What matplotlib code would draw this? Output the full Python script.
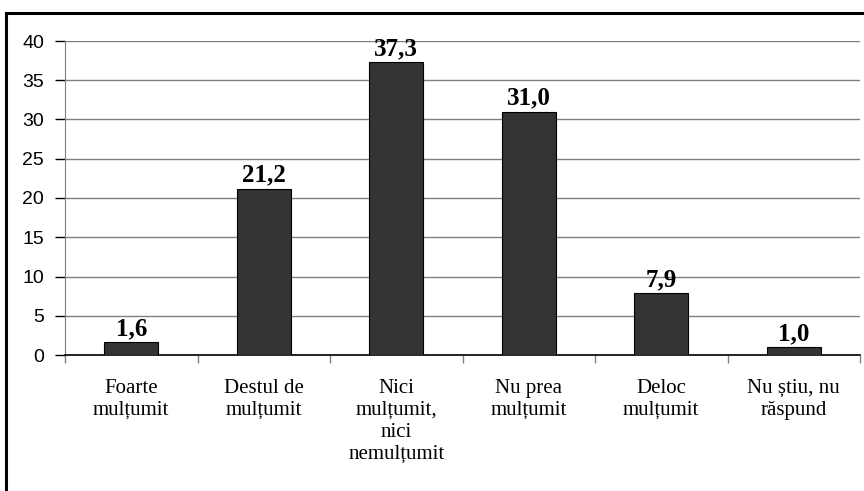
import numpy as np
import matplotlib
matplotlib.use("Agg")
import matplotlib.pyplot as plt
from matplotlib.lines import Line2D

# date grafic
categorii = ["Foarte\nmulțumit", "Destul de\nmulțumit", "Nici\nmulțumit,\nnici\nnemulțumit",
             "Nu prea\nmulțumit", "Deloc\nmulțumit", "Nu știu, nu\nrăspund"]
valori = [1.6, 21.2, 37.3, 31.0, 7.9, 1.0]
etichete = ["1,6", "21,2", "37,3", "31,0", "7,9", "1,0"]
y_ticks = [0, 5, 10, 15, 20, 25, 30, 35, 40]

fig = plt.figure(figsize=(8.64, 4.91), dpi=100)
ax = fig.add_axes([65/864, 1 - 355/491, 795/864, 314/491])

x = np.arange(len(categorii))
ax.bar(x, valori, width=0.41, color="#333333", edgecolor="black", linewidth=0.8, zorder=3)

for xi, v, t in zip(x, valori, etichete):
    ax.text(xi, v + 0.25, t, ha="center", va="bottom", fontsize=18, fontweight="bold",
            family="Liberation Serif", zorder=4)

ax.set_xlim(-0.5, len(categorii) - 0.5)
ax.set_ylim(0, 40)
ax.set_yticks(y_ticks)
ax.set_yticklabels([str(t) for t in y_ticks], fontsize=14, family="Liberation Sans")
ax.yaxis.grid(True, color="#808080", linewidth=1.0, zorder=0)

# axa x: tick-uri la limitele categoriilor, etichete in centru
ax.set_xticks(np.arange(len(categorii) + 1) - 0.5)
ax.set_xticklabels([])
ax.set_xticks(x, minor=True)
ax.set_xticklabels(categorii, minor=True, fontsize=15, family="Liberation Serif",
                   linespacing=1.22, va="top")
ax.tick_params(axis="x", which="minor", length=0, pad=17)
ax.tick_params(axis="x", which="major", length=6, width=1, direction="out", color="#808080")
ax.tick_params(axis="y", length=7, width=1, direction="out", color="black", pad=8)

for s in ["top", "right"]:
    ax.spines[s].set_visible(False)
ax.spines["left"].set_color("#808080")
ax.spines["bottom"].set_color("black")
ax.spines["bottom"].set_linewidth(1.2)

# chenarul exterior
fig.add_artist(Line2D([6/864, 6/864], [-0.1, 1 - 13/491], color="black", linewidth=2.2,
                      transform=fig.transFigure))
fig.add_artist(Line2D([6/864, 1.1], [1 - 13/491, 1 - 13/491], color="black", linewidth=2.2,
                      transform=fig.transFigure))

fig.savefig("out.png", dpi=100)
